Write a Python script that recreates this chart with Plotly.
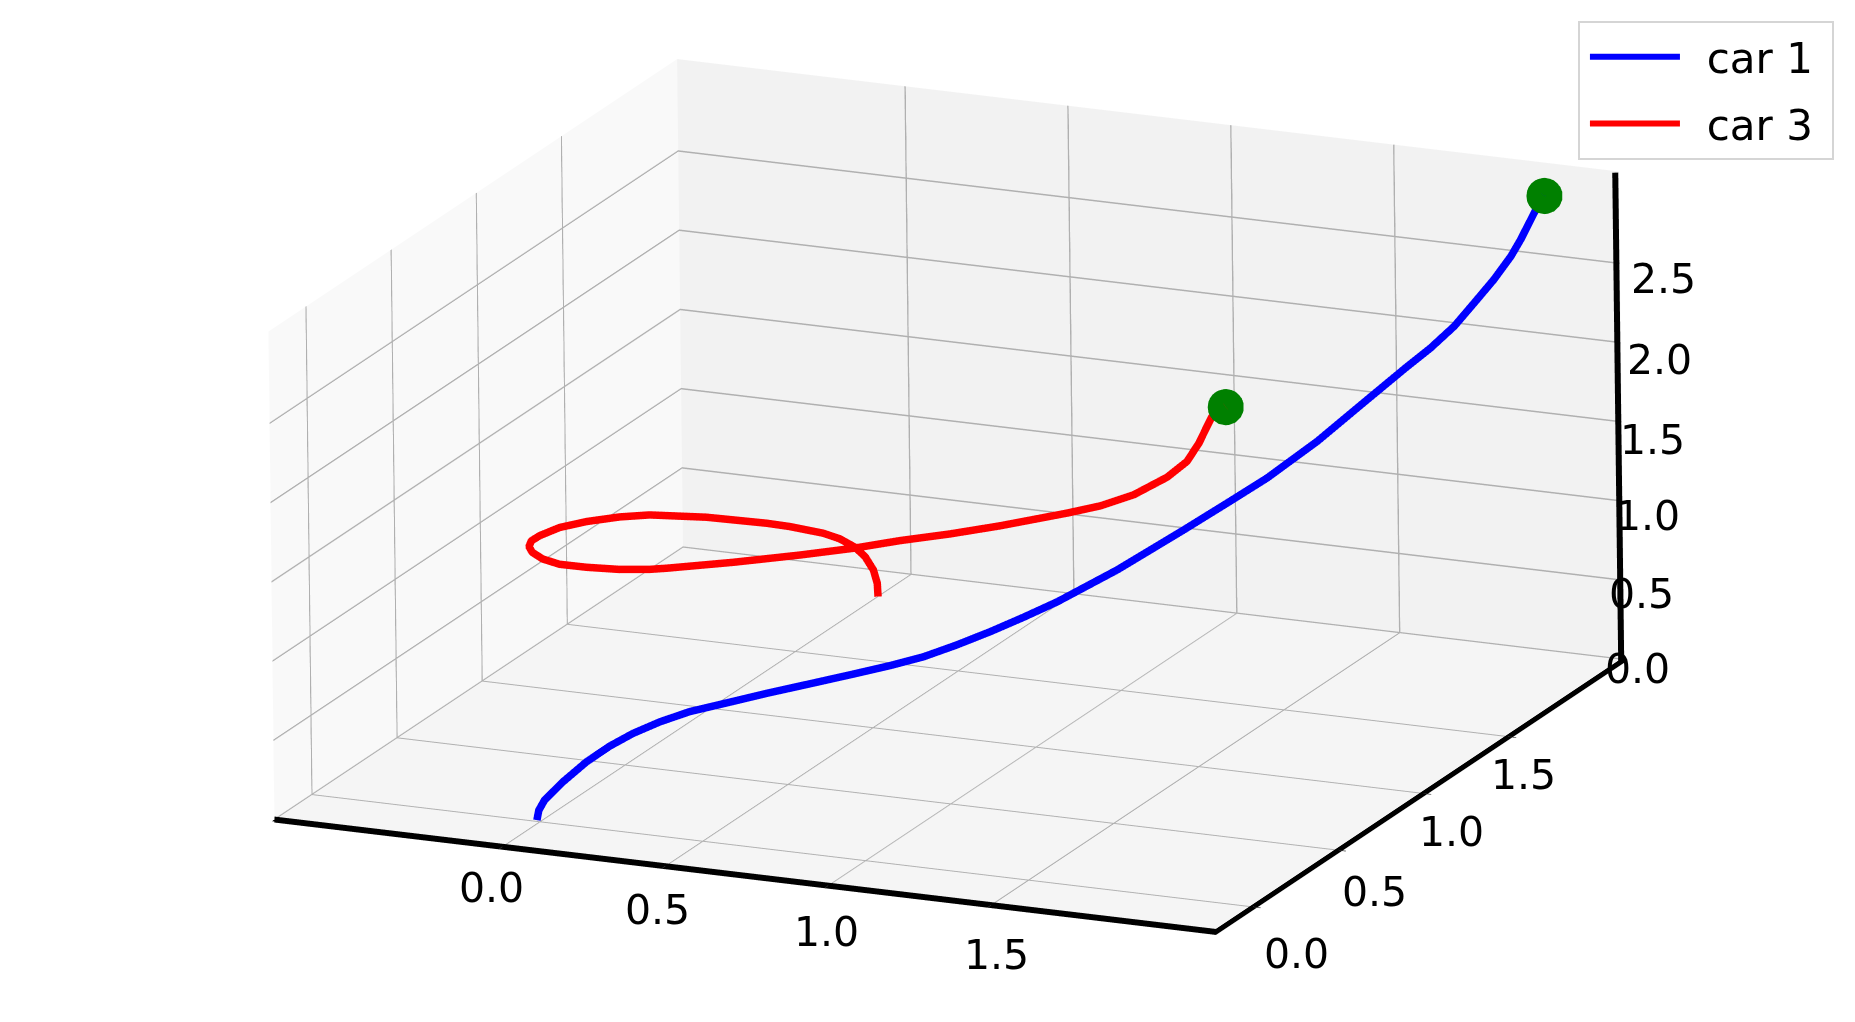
import plotly.graph_objects as go

car1_s = [-0.006, -0.002, 0.010, 0.047, 0.095, 0.142, 0.189, 0.244, 0.304, 0.379, 0.459, 0.540, 0.628, 0.708, 0.776, 0.843, 0.911, 0.978, 1.046, 1.168, 1.303, 1.391, 1.472, 1.574, 1.675, 1.754, 1.804, 1.852, 1.893, 1.933, 1.968, 1.988, 2.016, 2.036]
car1_x = list(car1_s)
car1_y = list(car1_s)
car1_z = [0.013, 0.073, 0.133, 0.229, 0.333, 0.410, 0.468, 0.516, 0.552, 0.572, 0.594, 0.612, 0.632, 0.652, 0.676, 0.719, 0.771, 0.830, 0.895, 1.040, 1.229, 1.357, 1.477, 1.661, 1.875, 2.041, 2.141, 2.255, 2.384, 2.512, 2.643, 2.739, 2.895, 2.995]

car3_x = [0.001, -0.022, -0.053, -0.089, -0.127, -0.168, -0.208, -0.284, -0.327, -0.444, -0.551, -0.596, -0.633, -0.655, -0.650, -0.639, -0.610, -0.567, -0.495, -0.415, -0.318, -0.204, -0.107, -0.049, 0.145, 0.334, 0.496, 0.632, 0.786, 0.947, 1.165, 1.286, 1.423, 1.566, 1.681, 1.765, 1.846, 1.901, 2.034]
car3_y = [1.984, 2.024, 2.061, 2.082, 2.096, 2.086, 2.066, 2.015, 1.960, 1.833, 1.705, 1.616, 1.493, 1.377, 1.251, 1.181, 1.112, 1.049, 0.973, 0.919, 0.891, 0.869, 0.861, 0.849, 0.870, 0.901, 0.904, 0.921, 0.921, 0.908, 0.885, 0.851, 0.786, 0.711, 0.610, 0.522, 0.416, 0.342, 0.168]
car3_z = [0.00, 0.05, 0.10, 0.16, 0.20, 0.25, 0.29, 0.35, 0.40, 0.50, 0.58, 0.62, 0.67, 0.71, 0.75, 0.77, 0.79, 0.81, 0.84, 0.865, 0.89, 0.92, 0.95, 0.98, 1.05, 1.12, 1.20, 1.27, 1.35, 1.45, 1.60, 1.70, 1.85, 2.05, 2.25, 2.45, 2.65, 2.78, 3.00]

goal_x = [2.036, 2.034]
goal_y = [2.036, 0.168]
goal_z = [2.995, 3.000]

x_range = [-0.70, 2.19]
y_range = [-0.22, 2.18]
z_range = [0.0, 3.08]
tick_vals = [0.0, 0.5, 1.0, 1.5]
z_tick_vals = [0.0, 0.5, 1.0, 1.5, 2.0, 2.5]
x_label_dx = [-11, -8, -2, 5]
x_label_dy = [-41, -43, -46, -49]
y_label_dx = [43, 36, 28, 15]
y_label_dy = [-47, -41, -38, -38]
z_label_dx = [-22, -17, -10, -4, 4, 9]
z_label_dy = [-9, -13, -15, -18, -17, -16]

FONT = "DejaVu Sans"
LABEL_FONT = dict(family=FONT, size=41, color="black")


def axis(rng, vals, bg, native=True):
    return dict(
        range=rng, tickvals=vals, showticklabels=False,
        showbackground=True, backgroundcolor=bg,
        gridcolor="#b0b0b0", gridwidth=3,
        showline=native, linecolor="black", linewidth=12,
        ticks="outside" if native else "", ticklen=8, tickcolor="#333333", tickwidth=2,
        zeroline=False, showspikes=False, title=dict(text=""),
        autorange=False,
    )


def label(x, y, z, v, dx, dy, anchor="center"):
    return dict(x=x, y=y, z=z, text=f"{v:.1f}", showarrow=False,
                xanchor=anchor, yanchor="middle", xshift=dx, yshift=dy, font=LABEL_FONT)


annotations = (
    [label(v, y_range[0], 0, v, dx, dy) for v, dx, dy in zip(tick_vals, x_label_dx, x_label_dy)]
    + [label(x_range[1], v, 0, v, dx, dy) for v, dx, dy in zip(tick_vals, y_label_dx, y_label_dy)]
    + [label(x_range[1], y_range[1], v, v, dx, dy, "left") for v, dx, dy in zip(z_tick_vals, z_label_dx, z_label_dy)]
)

fig = go.Figure()
fig.add_trace(go.Scatter3d(x=car1_x, y=car1_y, z=car1_z, mode="lines", showlegend=False,
                           legendgroup="a", line=dict(color="#0000ff", width=15)))
fig.add_trace(go.Scatter3d(x=car3_x, y=car3_y, z=car3_z, mode="lines", showlegend=False,
                           legendgroup="b", line=dict(color="#ff0000", width=15)))
fig.add_trace(go.Scatter3d(x=[None], y=[None], z=[None], mode="lines", name="\u00a0\u2009car 1\u00a0",
                           legendgroup="a", line=dict(color="#0000ff", width=6)))
fig.add_trace(go.Scatter3d(x=[None], y=[None], z=[None], mode="lines", name="\u00a0\u2009car 3\u00a0",
                           legendgroup="b", line=dict(color="#ff0000", width=6)))
fig.add_trace(go.Scatter3d(x=goal_x, y=goal_y, z=goal_z, mode="markers", showlegend=False,
                           marker=dict(color="#008000", size=21, line=dict(width=0))))
fig.add_trace(go.Scatter3d(x=[x_range[1] - 0.004] * 2, y=[y_range[1] - 0.012] * 2, z=z_range, mode="lines",
                           showlegend=False, line=dict(color="black", width=12)))

d = 2.5
fig.update_layout(
    width=1847, height=1014,
    margin=dict(l=0, r=0, t=0, b=0),
    paper_bgcolor="white",
    font=dict(family=FONT, color="black"),
    scene=dict(
        domain=dict(x=[0.0162, 1.0], y=[0.038, 1.0]),
        aspectmode="manual",
        aspectratio=dict(x=2.115, y=2.057, z=1.047),
        xaxis=axis(x_range, tick_vals, "#f9f9f9"),
        yaxis=axis(y_range, tick_vals, "#f2f2f2"),
        zaxis=axis(z_range, z_tick_vals, "#f5f5f5", native=False),
        annotations=annotations,
        camera=dict(
            projection=dict(type="orthographic"),
            eye=dict(x=0.3927 * d, y=-0.8716 * d, z=0.2924 * d),
            up=dict(x=-0.109, y=0.2716, z=0.956),
            center=dict(x=0, y=0, z=0),
        ),
    ),
    legend=dict(
        x=0.9886, y=0.9872, xanchor="right", yanchor="top",
        bgcolor="rgba(255,255,255,0.8)", bordercolor="#d5d5d5", borderwidth=2,
        font=dict(family=FONT, size=42, color="black"),
        itemwidth=90, indentation=5, tracegroupgap=9, traceorder="grouped",
    ),
)
fig.write_html("out.html")
